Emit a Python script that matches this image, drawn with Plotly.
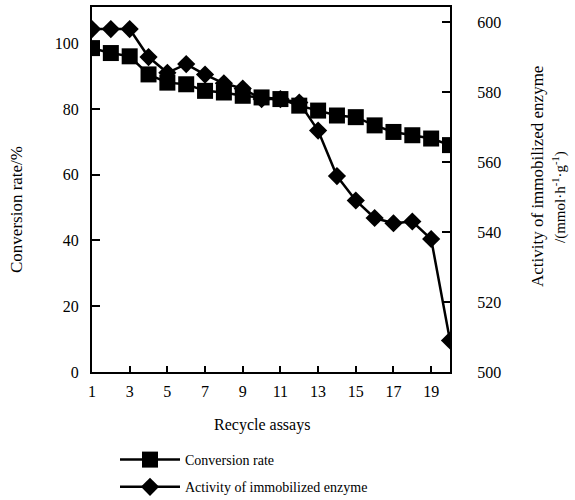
import plotly.graph_objects as go

assays = list(range(1, 21))
conversion_rate = [98.5, 97, 96, 90.5, 88, 87.5, 85.5, 85, 84, 83.5,
                   83, 81, 79.5, 78, 77.5, 75, 73, 72, 71, 69]
activity = [598, 598, 598, 590, 585.5, 588, 585, 582.5, 581, 578,
            578, 577, 569, 556, 549, 544, 542.5, 543, 538, 509]
x_ticks = [1, 3, 5, 7, 9, 11, 13, 15, 17, 19]
left_ticks = [0, 20, 40, 60, 80, 100]
right_ticks = [500, 520, 540, 560, 580, 600]

FONT = "Liberation Serif"

fig = go.Figure()
fig.add_trace(go.Scatter(
    x=assays, y=conversion_rate, name="Conversion rate",
    mode="lines+markers", yaxis="y", legendgroup="a",
    line=dict(color="black", width=2.5),
    marker=dict(symbol="square", size=16, color="black"),
))
fig.add_trace(go.Scatter(
    x=assays, y=activity, name="Activity of immobilized enzyme",
    mode="lines+markers", yaxis="y2", legendgroup="b",
    line=dict(color="black", width=2.5),
    marker=dict(symbol="diamond", size=14, color="black"),
))

fig.update_layout(
    width=575, height=500,
    margin=dict(l=92, r=125, t=7, b=128, autoexpand=False),
    paper_bgcolor="white", plot_bgcolor="white",
    font=dict(family=FONT, size=14, color="black"),
    showlegend=True,
    legend=dict(x=115 / 575, y=1 - 444 / 500, xref="container", yref="container",
                xanchor="left", yanchor="top",
                font=dict(family=FONT, size=14), tracegroupgap=6,
                itemwidth=60, bgcolor="rgba(0,0,0,0)"),
    xaxis=dict(range=[1, 20], tickvals=x_ticks, ticks="inside", ticklen=6,
               tickwidth=1.5, tickcolor="black",
               showline=True, linecolor="black", linewidth=2, mirror=True,
               showgrid=False, zeroline=False,
               tickfont=dict(family=FONT, size=16), ticklabelstandoff=4),
    yaxis=dict(range=[0, 111], tickvals=left_ticks, ticks="inside", ticklen=8,
               tickwidth=1.5, tickcolor="black",
               showline=True, linecolor="black", linewidth=2,
               showgrid=False, zeroline=False,
               tickfont=dict(family=FONT, size=16), ticklabelstandoff=8),
    yaxis2=dict(range=[500, 604.3], tickvals=right_ticks, ticks="inside",
                ticklen=8, tickwidth=1.5, tickcolor="black",
                overlaying="y", side="right",
                showline=True, linecolor="black", linewidth=2,
                showgrid=False, zeroline=False,
                tickfont=dict(family=FONT, size=16), ticklabelstandoff=22),
    annotations=[
        dict(text="Conversion rate/%", x=16, y=210, xref="paper", yref="paper",
             showarrow=False, textangle=-90, font=dict(family=FONT, size=17)),
        dict(text="Recycle assays", x=262, y=425, showarrow=False,
             font=dict(family=FONT, size=16)),
        dict(text="Activity of immobilized enzyme", x=537, y=177,
             showarrow=False, textangle=-90, font=dict(family=FONT, size=17)),
        dict(text="/(mmol·h<sup>-1</sup>·g<sup>-1</sup>)", x=559, y=197,
             showarrow=False, textangle=-90, font=dict(family=FONT, size=15)),
    ],
)

# convert pixel positions of annotations to paper coordinates
pw = 575 - 92 - 125
ph = 500 - 7 - 128
for a in fig.layout.annotations:
    px, py = a.x, a.y
    a.xref = "paper"
    a.yref = "paper"
    a.x = (px - 92) / pw
    a.y = (500 - 128 - py) / ph
    a.xanchor = "center"
    a.yanchor = "middle"

fig.write_html("out.html")
